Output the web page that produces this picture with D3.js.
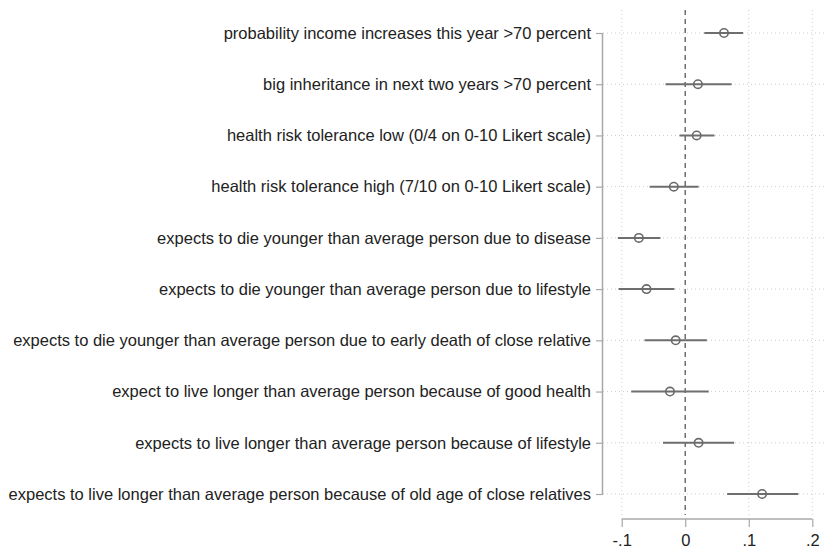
<!DOCTYPE html>
<html>
<head>
<meta charset="utf-8">
<script src="https://cdn.jsdelivr.net/npm/d3@7"></script>
<style>
  html, body { margin: 0; padding: 0; background: #fff; }
  svg { display: block; }
</style>
</head>
<body>
<svg id="chart" width="824" height="554"></svg>
<script>
// Coefficient estimates with 95% confidence intervals, one row per indicator
const categories = [
  "probability income increases this year >70 percent",
  "big inheritance in next two years >70 percent",
  "health risk tolerance low (0/4 on 0-10 Likert scale)",
  "health risk tolerance high (7/10 on 0-10 Likert scale)",
  "expects to die younger than average person due to disease",
  "expects to die younger than average person due to lifestyle",
  "expects to die younger than average person due to early death of close relative",
  "expect to live longer than average person because of good health",
  "expects to live longer than average person because of lifestyle",
  "expects to live longer than average person because of old age of close relatives"
];
const estimates = [0.061, 0.020, 0.018, -0.018, -0.073, -0.061, -0.015, -0.024, 0.021, 0.121];
const ciLower   = [0.030, -0.031, -0.009, -0.056, -0.106, -0.105, -0.064, -0.085, -0.035, 0.066];
const ciUpper   = [0.091, 0.073, 0.046, 0.021, -0.039, -0.017, 0.034, 0.037, 0.077, 0.178];
const xTicks = [-0.1, 0, 0.1, 0.2];
const xTickLabels = ["-.1", "0", ".1", ".2"];

const rows = categories.map((c, i) => ({ label: c, est: estimates[i], lo: ciLower[i], hi: ciUpper[i] }));

const svg = d3.select("#chart");
const plotLeft = 603, plotRight = 824, plotTop = 10, plotBottom = 515;
const font = "'Liberation Sans', Arial, sans-serif";

const x = d3.scaleLinear().domain([-0.1, 0.2]).range([621.7, 812.3]);
const y = d3.scalePoint().domain(categories).range([33, 494]);

// dotted grid
const grid = svg.append("g");
grid.selectAll("line.vg").data(xTicks.filter(t => t !== 0)).join("line")
  .attr("x1", d => x(d)).attr("x2", d => x(d))
  .attr("y1", plotTop).attr("y2", plotBottom)
  .attr("stroke", "#cfcfcf").attr("stroke-width", 1).attr("stroke-dasharray", "1,3");
grid.selectAll("line.hg").data(categories).join("line")
  .attr("x1", plotLeft).attr("x2", plotRight)
  .attr("y1", d => y(d)).attr("y2", d => y(d))
  .attr("stroke", "#cfcfcf").attr("stroke-width", 1).attr("stroke-dasharray", "1,3");

// reference line at zero
svg.append("line")
  .attr("x1", x(0)).attr("x2", x(0))
  .attr("y1", plotTop).attr("y2", plotBottom)
  .attr("stroke", "#6e6e6e").attr("stroke-width", 1.5).attr("stroke-dasharray", "5,4");

// y axis
const yAxis = svg.append("g").attr("transform", `translate(${plotLeft},0)`)
  .call(d3.axisLeft(y).tickSize(7).tickPadding(5));
yAxis.select(".domain").attr("stroke", "#a8a8a8").attr("stroke-width", 1.5)
  .attr("d", `M-0.5,${y(categories[0])}V${y(categories[categories.length - 1])}`);
yAxis.selectAll(".tick line").attr("stroke", "#a8a8a8").attr("stroke-width", 1.2);
yAxis.selectAll(".tick text")
  .attr("fill", "#222").attr("font-family", font)
  .attr("font-size", 16.5);

// x axis
const xAxis = svg.append("g").attr("transform", `translate(0,519)`)
  .call(d3.axisBottom(x).tickValues(xTicks).tickFormat((d, i) => xTickLabels[i]).tickSize(8).tickPadding(7));
xAxis.select(".domain").attr("stroke", "#a8a8a8").attr("stroke-width", 1.5)
  .attr("d", `M${x(-0.1)},0H${x(0.2)}`);
xAxis.selectAll(".tick line").attr("stroke", "#a8a8a8").attr("stroke-width", 1.2);
xAxis.selectAll(".tick text")
  .attr("fill", "#222").attr("font-family", font)
  .attr("font-size", 16.5);

// confidence intervals
svg.append("g").selectAll("line").data(rows).join("line")
  .attr("x1", d => x(d.lo)).attr("x2", d => x(d.hi))
  .attr("y1", d => y(d.label)).attr("y2", d => y(d.label))
  .attr("stroke", "#6e6e6e").attr("stroke-width", 2);

// point estimates
svg.append("g").selectAll("circle").data(rows).join("circle")
  .attr("cx", d => x(d.est)).attr("cy", d => y(d.label))
  .attr("r", 4.2)
  .attr("fill", "none").attr("stroke", "#6a6a6a").attr("stroke-width", 1.6);
</script>
</body>
</html>
